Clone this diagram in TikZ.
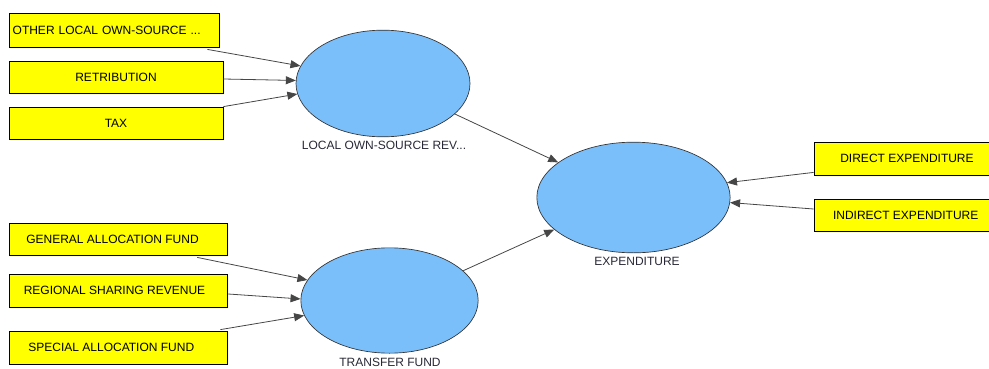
\documentclass[tikz,border=0pt]{standalone}
\usepackage{fontspec}
\setmainfont{Liberation Sans}
\usetikzlibrary{calc}
\usetikzlibrary{arrows.meta,shapes}
\usetikzlibrary{positioning}
\definecolor{indyellow}{RGB}{255,255,0}
\definecolor{lvblue}{RGB}{122,190,250}
\definecolor{arrowgray}{RGB}{70,70,70}
\definecolor{labelgray}{RGB}{40,40,55}

\tikzset{
  indbox/.style={draw=black,fill=indyellow,rectangle,inner sep=0pt,
    font=\fontsize{9}{11}\selectfont,line width=0.6pt},
  latent/.style={draw=black!80,fill=lvblue,ellipse,inner sep=0pt,line width=0.5pt},
  lvlabel/.style={font=\fontsize{9}{11}\selectfont,text=labelgray},
  path/.style={draw=arrowgray,line width=0.6pt,-{Triangle[length=7.5pt,width=6pt]}}
}

\begin{document}
\begin{tikzpicture}[x=0.75pt,y=-0.75pt]
        \useasboundingbox (0,0) rectangle (989,368);
        % latent variables
        \node[latent,minimum width=130.5pt,minimum height=80pt] (LOR) at (383,83.5) {};
        \node[latent,minimum width=133pt,minimum height=79pt] (TF) at (389.5,300.5) {};
        \node[latent,minimum width=145pt,minimum height=83pt] (EXP) at (633.5,197.5) {};
        \node[lvlabel] at (384,145) {LOCAL OWN-SOURCE REV...};
        \node[lvlabel] at (390,362) {TRANSFER FUND};
        \node[lvlabel] at (637,261) {EXPENDITURE};
        % indicators
        \node[indbox,minimum width=157.5pt,minimum height=25.5pt,text width=152pt,align=left] (OLR) at (114,30) {OTHER LOCAL OWN-SOURCE ...};
        \node[indbox,minimum width=160.5pt,minimum height=24pt] (RET) at (116,77) {RETRIBUTION};
        \node[indbox,minimum width=160.5pt,minimum height=24pt] (TAX) at (116,123) {TAX};
        \node[indbox,minimum width=164pt,minimum height=24pt] (GAF) at (118.5,239) {\hspace*{-9pt}GENERAL ALLOCATION FUND};
        \node[indbox,minimum width=164pt,minimum height=24.75pt] (RSR) at (118.5,290.5) {\hspace*{-6pt}REGIONAL SHARING REVENUE};
        \node[indbox,minimum width=163.5pt,minimum height=24.75pt] (SAF) at (118,347.5) {\hspace*{-10pt}SPECIAL ALLOCATION FUND};
        \node[indbox,minimum width=133.5pt,minimum height=24.75pt] (DE) at (903,158.5) {\hspace*{6pt}DIRECT EXPENDITURE};
        \node[indbox,minimum width=133.5pt,minimum height=24pt] (IE) at (903,215) {\hspace*{4pt}INDIRECT EXPENDITURE};
        % paths
        \draw[path] ($(OLR.south east)+(-12,2)$) -- (LOR.168.6);
        \draw[path] ($(RET.east)+(0,2)$) -- (LOR.178.4);
        \draw[path] (TAX.north east) -- (LOR.187.5);
        \draw[path] ($(GAF.south east)+(-31,2)$) -- (TF.166.7);
        \draw[path] ($(RSR.east)+(0,3.5)$) -- (TF.179);
        \draw[path] ($(SAF.north east)+(-7,-1)$) -- (TF.190.6);
        \draw[path] (LOR.337.7) -- (EXP.155.1);
        \draw[path] (TF.22.8) -- (EXP.202.5);
        \draw[path] ($(DE.south west)+(0,-3)$) -- (EXP.9.4);
        \draw[path] ($(IE.west)+(0,-6)$) -- (EXP.357.3);
\end{tikzpicture}
\end{document}
